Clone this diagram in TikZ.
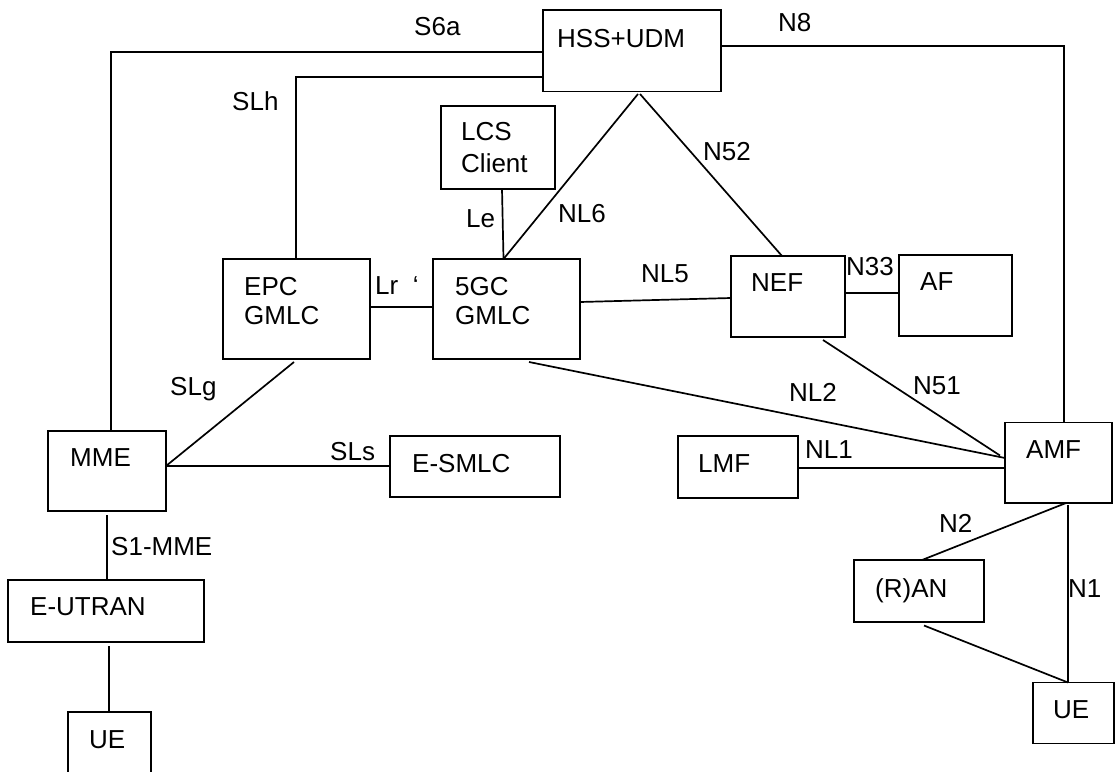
\documentclass[tikz,border=0pt]{standalone}
\usepackage{fontspec}
\setmainfont{Liberation Sans}
\begin{document}
\begin{tikzpicture}[x=1pt,y=-1pt,
  box/.style={draw, line width=1.7pt, inner sep=0pt, outer sep=0pt, anchor=north west},
  txt/.style={anchor=base west, inner sep=0pt, font=\fontsize{26}{31}\selectfont},
  con/.style={line width=1.7pt}]
\useasboundingbox (0,0) rectangle (1115,771);
\clip (0,0) rectangle (1115,771);
% boxes
\node[box, minimum width=178pt, minimum height=81.5pt] (hss) at (543,10) {};
\node[box, minimum width=114pt, minimum height=83pt] (lcs) at (441,106) {};
\node[box, minimum width=147pt, minimum height=100pt] (epc) at (223,259) {};
\node[box, minimum width=147pt, minimum height=100pt] (g5) at (433,259) {};
\node[box, minimum width=114pt, minimum height=81pt] (nef) at (731,256) {};
\node[box, minimum width=113pt, minimum height=81pt] (af) at (899,255) {};
\node[box, minimum width=107pt, minimum height=80.5pt] (amf) at (1005,422.5) {};
\node[box, minimum width=120pt, minimum height=62pt] (lmf) at (678,436) {};
\node[box, minimum width=118pt, minimum height=80pt] (mme) at (48,431) {};
\node[box, minimum width=170pt, minimum height=61pt] (esmlc) at (390,436) {};
\node[box, minimum width=196pt, minimum height=62pt] (eutran) at (8,580) {};
\node[box, minimum width=83pt, minimum height=80pt] (ue1) at (68,712) {};
\node[box, minimum width=130pt, minimum height=62pt] (ran) at (854,560) {};
\node[box, minimum width=81pt, minimum height=61pt] (ue2) at (1033,682.5) {};
% box texts
\node[txt] (thss) at (557,47) {HSS+UDM};
\node[txt] (tlcs1) at (461,140) {LCS};
\node[txt] (tlcs2) at (461,172) {Client};
\node[txt] (tepc1) at (244,295) {EPC};
\node[txt] (tepc2) at (244,324) {GMLC};
\node[txt] (tg51) at (455,295) {5GC};
\node[txt] (tg52) at (455,324) {GMLC};
\node[txt] (tnef) at (751,291) {NEF};
\node[txt] (taf) at (920,290) {AF};
\node[txt] (tamf) at (1026,458) {AMF};
\node[txt] (tlmf) at (698,472) {LMF};
\node[txt] (tmme) at (70,466) {MME};
\node[txt] (tesmlc) at (412,472) {E-SMLC};
\node[txt] (teutran) at (30,615) {E-UTRAN};
\node[txt] (tue1) at (89,748) {UE};
\node[txt] (tran) at (875,597) {(R)AN};
\node[txt] (tue2) at (1053,718) {UE};
% connectors
\draw[con] ([yshift=-42pt]hss.north west) -| ([xshift=63pt]mme.north west);
\draw[con] ([yshift=-67pt]hss.north west) -| ([xshift=73pt]epc.north west);
\draw[con] ([yshift=-36pt]hss.north east) -| ([xshift=59pt]amf.north west);
\draw[con] ([xshift=61pt]lcs.south west) -- ([xshift=70.5pt]g5.north west);
\draw[con] ([xshift=95pt,yshift=-2.5pt]hss.south west) -- ([xshift=70.5pt]g5.north west);
\draw[con] ([xshift=97pt,yshift=-2.5pt]hss.south west) -- ([xshift=51pt]nef.north west);
\draw[con] ([yshift=-48pt]epc.north east) -- ([yshift=-48pt]g5.north west);
\draw[con] ([yshift=-43pt]g5.north east) -- ([yshift=-42pt]nef.north west);
\draw[con] ([yshift=-37pt]nef.north east) -- ([yshift=-38pt]af.north west);
\draw[con] ([xshift=96pt,yshift=-3pt]g5.south west) -- ([yshift=-35.5pt]amf.north west);
\draw[con] ([xshift=92pt,yshift=-3pt]nef.south west) -- ([xshift=-5pt,yshift=-33pt]amf.north west);
\draw[con] ([yshift=-32pt]lmf.north east) -- ([yshift=-45.5pt]amf.north west);
\draw[con] ([xshift=71pt,yshift=-3pt]epc.south west) -- ([yshift=-35pt]mme.north east);
\draw[con] ([yshift=-35pt]mme.north east) -- ([yshift=-30pt]esmlc.north west);
\draw[con] ([xshift=59pt,yshift=-4pt]mme.south west) -- ([xshift=99pt]eutran.north west);
\draw[con] ([xshift=101pt,yshift=-4pt]eutran.south west) -- ([xshift=41pt]ue1.north west);
\draw[con] ([xshift=61pt]amf.south west) -- ([xshift=68pt]ran.north west);
\draw[con] ([xshift=63pt,yshift=-2pt]amf.south west) -- ([xshift=35pt]ue2.north west);
\draw[con] ([xshift=70pt,yshift=-3.5pt]ran.south west) -- ([xshift=35pt]ue2.north west);
% connector labels
\node[txt] (ls6a) at (414,35) {S6a};
\node[txt] (ln8) at (778,31) {N8};
\node[txt] (lslh) at (232,110) {SLh};
\node[txt] (lle) at (466,227) {Le};
\node[txt] (lnl6) at (558,222) {NL6};
\node[txt] (ln52) at (703,160) {N52};
\node[txt] (llr) at (375,294) {Lr\ \ ‘};
\node[txt] (lnl5) at (641,282) {NL5};
\node[txt] (ln33) at (846,275) {N33};
\node[txt] (lnl2) at (789,401) {NL2};
\node[txt] (ln51) at (913,394) {N51};
\node[txt] (lnl1) at (805,458) {NL1};
\node[txt] (lslg) at (170,395) {SLg};
\node[txt] (lsls) at (330,460) {SLs};
\node[txt] (ls1) at (111,555) {S1-MME};
\node[txt] (ln2) at (939,532) {N2};
\node[txt] (ln1) at (1068,597) {N1};
\end{tikzpicture}
\end{document}
